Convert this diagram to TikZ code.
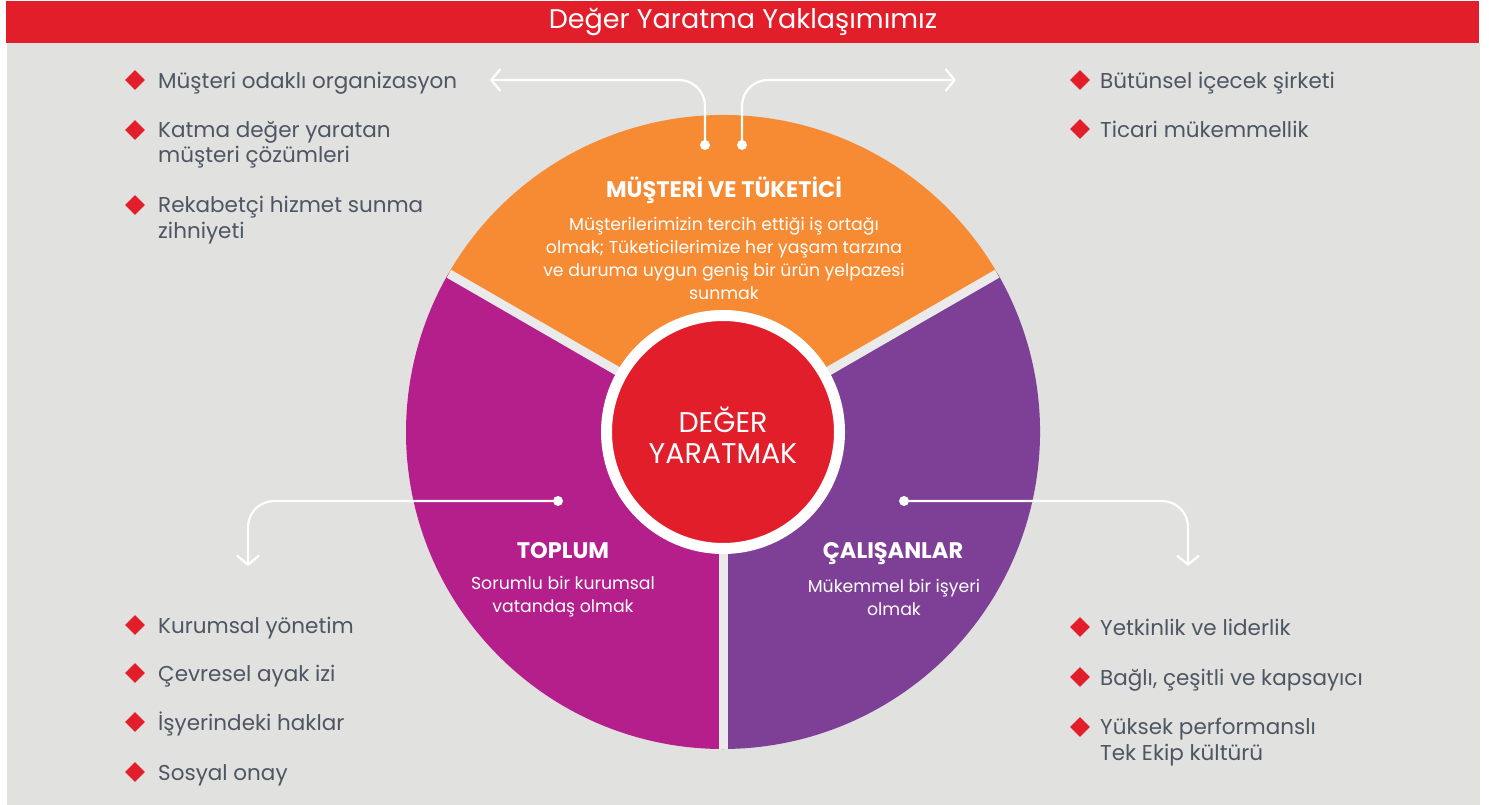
\documentclass[tikz,border=0pt]{standalone}
\usepackage{fontspec}
\setmainfont{Poppins}
\usepackage{xcolor}
\usetikzlibrary{arrows.meta}
\usetikzlibrary{positioning}
\definecolor{barred}{RGB}{227,30,43}
\definecolor{panelgrey}{RGB}{225,225,223}
\definecolor{segorange}{RGB}{246,139,51}
\definecolor{segmagenta}{RGB}{180,31,140}
\definecolor{segpurple}{RGB}{126,64,150}
\definecolor{gapgrey}{RGB}{234,234,234}
\definecolor{itemgrey}{RGB}{77,86,99}

\begin{document}
\begin{tikzpicture}[x=1pt,y=-1pt]
  \tikzstyle{bullet}=[fill=barred, rotate=45, minimum size=14pt, inner sep=0pt]
  \tikzstyle{item}=[anchor=west, align=left, text=itemgrey, inner sep=0pt,
     font=\fontsize{21.5}{25.5}\selectfont, execute at begin node=\strut, execute at end node=\strut]
  \tikzstyle{segtitle}=[anchor=base, text=white, font=\bfseries\fontsize{22.5}{26}\selectfont]
  \tikzstyle{segtext}=[text=white, align=center, font=\fontsize{17.3}{23}\selectfont]
  \tikzstyle{dot}=[circle, fill=white, inner sep=0pt, minimum size=10pt]
  \tikzstyle{link}=[draw=white, line width=2.2pt, rounded corners=26pt,
     -{Straight Barb[length=9pt,width=22pt]}]
  \useasboundingbox (0,0) rectangle (1489,805);
  \fill[white] (0,0) rectangle (1489,805);
  \fill[panelgrey] (7,43) rectangle (1480,805);
  \fill[barred] (6,1) rectangle (1479,43);
  \node[text=white, font=\fontsize{27}{30}\selectfont] (title) at (743,22) {Değer Yaratma Yaklaşımımız};

  % the wheel
  \coordinate (c) at (723,432);
  \fill[segorange] (c) -- ++(210:317) arc[start angle=210, end angle=330, radius=317] -- cycle;
  \fill[segmagenta] (c) -- ++(90:317) arc[start angle=90, end angle=210, radius=317] -- cycle;
  \fill[segpurple] (c) -- ++(-30:317) arc[start angle=-30, end angle=90, radius=317] -- cycle;
  \foreach \a in {90,210,330}
    \draw[gapgrey, line width=9pt] (c) -- ++(\a:316.5);
  \node[circle, fill=barred, draw=white, line width=11pt, minimum size=233pt] (core) at (c) {};
  \node[text=white, align=center, font=\fontsize{28.5}{31}\selectfont] (coretext) at (723,435) {DEĞER\\YARATMAK};

  \node[segtitle] (must) at (724,198) {MÜŞTERİ VE TÜKETİCİ};
  \node[segtext] (musttext) at (724,258) {Müşterilerimizin tercih ettiği iş ortağı\\olmak; Tüketicilerimize her yaşam tarzına\\ve duruma uygun geniş bir ürün yelpazesi\\sunmak};
  \node[segtitle] (toplum) at (563,558) {TOPLUM};
  \node[segtext] (toplumtext) at (563,597) {Sorumlu bir kurumsal\\vatandaş olmak};
  \node[segtitle] (calis) at (893,558) {ÇALIŞANLAR};
  \node[segtext] (calistext) at (894,597) {Mükemmel bir işyeri\\olmak};

  % connectors
  \node[dot] (dTL) at (705,145) {};
  \node[dot] (dTR) at (742,145) {};
  \node[dot] (dBL) at (558,501) {};
  \node[dot] (dBR) at (904,501) {};
  \coordinate (tTL) at (490,80);
  \coordinate (tTR) at (956,80);
  \coordinate (tBL) at (248,566);
  \coordinate (tBR) at (1188,566);
  \draw[link] (dTL.center) |- (tTL);
  \draw[link] (dTR.center) |- (tTR);
  \draw[link] (dBL.center) -| (tBL);
  \draw[link] (dBR.center) -| (tBR);

  % lists
  \foreach \dy/\ty/\txt [count=\i] in {80/83/{Müşteri odaklı organizasyon},
      130/146/{Katma değer yaratan\\müşteri çözümleri},
      205/221/{Rekabetçi hizmet sunma\\zihniyeti}}{
    \node[bullet] (bTL\i) at (135,\dy) {};
    \node[item] (iTL\i) at (158,\ty) {\txt};
  }
  \foreach \dy/\txt [count=\i] in {80/{Bütünsel içecek şirketi},
      129/{Ticari mükemmellik}}{
    \node[bullet] (bTR\i) at (1080,\dy) {};
    \node[item] (iTR\i) at (1100,\dy+3) {\txt};
  }
  \foreach \dy/\txt [count=\i] in {625/{Kurumsal yönetim}, 673/{Çevresel ayak izi},
      722/{İşyerindeki haklar}, 772/{Sosyal onay}}{
    \node[bullet] (bBL\i) at (135,\dy) {};
    \node[item] (iBL\i) at (158,\dy+3) {\txt};
  }
  \foreach \dy/\ty/\txt [count=\i] in {627/630/{Yetkinlik ve liderlik},
      677/680/{Bağlı, çeşitli ve kapsayıcı},
      727/743/{Yüksek performanslı\\Tek Ekip kültürü}}{
    \node[bullet] (bBR\i) at (1080,\dy) {};
    \node[item] (iBR\i) at (1100,\ty) {\txt};
  }
\end{tikzpicture}
\end{document}
